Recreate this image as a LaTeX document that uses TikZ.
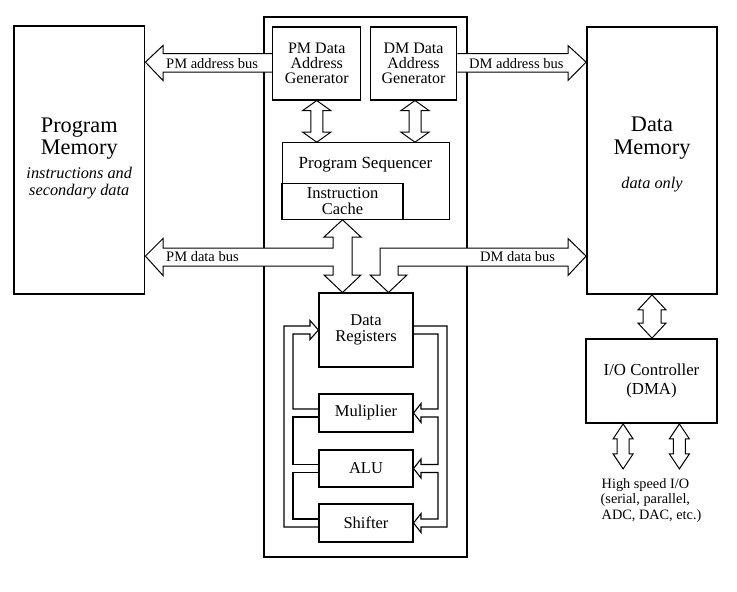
\documentclass[tikz,border=0pt]{standalone}
\usepackage{fontspec}
\setmainfont{Liberation Serif}
\usetikzlibrary{calc}
\pgfdeclarelayer{bg}
\pgfdeclarelayer{buslayer}
\pgfsetlayers{bg,buslayer,main}
% vertical double arrow: #1 top tip, #2 bottom tip, #3 shaft half width, #4 head half width, #5 head length
\newcommand\vdarr[5]{%
  \draw[bus] #1 -- ++(#4,#5) -- ++(-#4+#3,0) -- ($#2+(#3,-#5)$) -- ++(#4-#3,0) -- #2
    -- ++(-#4,-#5) -- ++(#4-#3,0) -- ($#1+(-#3,#5)$) -- ++(-#4+#3,0) -- cycle;}
\begin{document}
\begin{tikzpicture}[x=1pt,y=-1pt,
  outer/.style={draw, line width=1.8pt, inner sep=0pt, fill=white},
  box/.style={draw, line width=1.1pt, fill=white, inner sep=0pt, align=center,
              font=\fontsize{16.5}{16.5}\selectfont},
  bus/.style={draw, line width=1pt, fill=white, line join=miter, miter limit=10},
  fb/.style={draw, line width=1.1pt, line join=miter, miter limit=10},
  txt/.style={inner sep=0pt, anchor=base},
  buslbl/.style={inner sep=0pt, anchor=base west, font=\fontsize{14.5}{15}\selectfont},
  small/.style={inner sep=0pt, anchor=base west, font=\fontsize{14.3}{15}\selectfont},
]
\useasboundingbox (0,0) rectangle (737,592);

% ---------- background and processor box ----------
\begin{pgfonlayer}{bg}
\fill[white] (0,0) rectangle (737,592);
\node[draw, line width=1.8pt, minimum width=203pt, minimum height=539.5pt, inner sep=0pt] (cpu) at (365.5,287) {};
\end{pgfonlayer}

% ---------- outer boxes ----------
\node[outer, minimum width=130.5pt, minimum height=268pt] (pm) at (79.25,160) {};
\node[outer, minimum width=130pt, minimum height=267pt] (dm) at (652,160.5) {};
\node[outer, minimum width=131pt, minimum height=84pt, align=center,
      font=\fontsize{16.8}{19}\selectfont] (io) at (651.5,381) {I/O Controller\\(DMA)};

% memory texts
\node[txt, font=\fontsize{22.3}{22}\selectfont] (pmt1) at (79.25,132) {Program};
\node[txt, font=\fontsize{22.3}{22}\selectfont] (pmt2) at (79.25,154.5) {Memory};
\node[txt, font=\fontsize{16.3}{16}\selectfont\itshape] (pmt3) at (79.25,178) {instructions and};
\node[txt, font=\fontsize{16.3}{16}\selectfont\itshape] (pmt4) at (79.25,195) {secondary data};
\node[txt, font=\fontsize{22.3}{22}\selectfont] (dmt1) at (652,131.7) {Data};
\node[txt, font=\fontsize{22.3}{22}\selectfont] (dmt2) at (652,154) {Memory};
\node[txt, font=\fontsize{16.3}{16}\selectfont\itshape] (dmt3) at (652,188) {data only};

% ---------- inner boxes ----------
\node[box, minimum width=88pt, minimum height=73pt, font=\fontsize{16}{15}\selectfont]
  (pmdag) at (316.75,63.5) {PM Data\\Address\\Generator};
\node[box, minimum width=86.5pt, minimum height=73pt, font=\fontsize{16}{15}\selectfont]
  (dmdag) at (413.5,63.5) {DM Data\\Address\\Generator};
\node[box, minimum width=167pt, minimum height=76.5pt] (seq) at (365.75,181) {};
\node[txt, font=\fontsize{17}{17}\selectfont] (seqt) at (365.5,168) {Program Sequencer};
\node[box, minimum width=121pt, minimum height=36pt, font=\fontsize{16.5}{15.5}\selectfont]
  (cache) at (342.5,201.25) {Instruction\\Cache};
\node[box, minimum width=94pt, minimum height=74pt] (dr) at (366,330) {Data\\Registers};
\node[box, minimum width=94pt, minimum height=38pt] (mul) at (366,413) {Muliplier};
\node[box, minimum width=94pt, minimum height=37pt] (alu) at (366,468.5) {ALU};
\node[box, minimum width=94pt, minimum height=38pt] (shf) at (366,523) {Shifter};

% ---------- buses ----------
\begin{pgfonlayer}{buslayer}
% PM address bus
\draw[bus] (pmdag.west |- 0,53.5) -- (163,53.5) -- (163,45.5) -- ($(pm.north east)+(0,37)$)
  -- (163,80.5) -- (163,72) -- (pmdag.west |- 0,72);
% DM address bus
\draw[bus] (dmdag.east |- 0,53.5) -- (568,53.5) -- (568,45.5) -- ($(dm.north west)+(0,36)$)
  -- (568,80.5) -- (568,72) -- (dmdag.east |- 0,72);
% PM data bus joined with cache <-> data registers
\draw[bus] ($(pm.north east)+(0,231)$) -- (163,238.5) -- (163,248) -- (333,248) -- (333,237)
  -- (324,237) -- (cache.south) -- (361,237) -- (352,237) -- (352,275) -- (361,275)
  -- ($(dr.north)+(-23.5,0)$) -- (324,275) -- (333,275) -- (333,266) -- (163,266)
  -- (163,275.5) -- cycle;
% DM data bus into data registers
\draw[bus] ($(dm.north west)+(0,230)$) -- (568,238.5) -- (568,248) -- (380,248) -- (380,275)
  -- (370,275) -- ($(dr.north)+(22.5,0)$) -- (407,275) -- (398,275) -- (398,266)
  -- (568,266) -- (568,275.5) -- cycle;
\end{pgfonlayer}

% address generators <-> sequencer
\vdarr{(pmdag.south)}{(pmdag.south |- seq.north)}{6}{14}{10}
\coordinate (dmA) at ($(dmdag.south)+(1.5,0)$);
\coordinate (dmB) at (dmA |- seq.north);
\vdarr{(dmA)}{(dmB)}{6}{14}{10}
% data memory <-> I/O controller
\coordinate (ioT) at (dm.south);
\coordinate (ioB) at (dm.south |- io.north);
\vdarr{(ioT)}{(ioB)}{9}{14}{15}
% I/O lines
\coordinate (ioA) at ($(io.south west)+(38,0)$);
\coordinate (ioAe) at ($(ioA)+(0,45)$);
\coordinate (ioC) at ($(io.south east)+(-38.5,0)$);
\coordinate (ioCe) at ($(ioC)+(0,45)$);
\vdarr{(ioA)}{(ioAe)}{6}{10}{15}
\vdarr{(ioC)}{(ioCe)}{6}{10}{15}

% ---------- feedback loops ----------
% left side: results back to data registers
\draw[fb] (mul.west |- 0,409) -- (293,409) -- (293,334) -- (310,334) -- (310,339.5)
  -- (dr.west) -- (310,320.5) -- (310,326) -- (284,326) -- (284,527) -- (shf.west |- 0,527);
\draw[fb] (mul.west |- 0,417) -- (293,417) -- (293,464.5) -- (alu.west |- 0,464.5);
\draw[fb] (alu.west |- 0,472.5) -- (293,472.5) -- (293,519) -- (shf.west |- 0,519);
% right side: data registers to units
\draw[fb] (dr.east |- 0,334) -- (438,334) -- (438,409) -- (421,409) -- (421,403.5)
  -- (mul.east) -- (421,422.5) -- (421,417) -- (438,417) -- (438,464.5) -- (421,464.5)
  -- (421,459) -- (alu.east) -- (421,478) -- (421,472.5) -- (438,472.5) -- (438,519)
  -- (421,519) -- (421,513.5) -- (shf.east) -- (421,532.5) -- (421,527) -- (447,527)
  -- (447,326) -- (dr.east |- 0,326);

% ---------- bus labels ----------
\node[buslbl] (l1) at (166,68) {PM address bus};
\node[buslbl] (l2) at (469,68) {DM address bus};
\node[buslbl] (l3) at (166,261.5) {PM data bus};
\node[buslbl] (l4) at (480,261.5) {DM data bus};

% ---------- high speed I/O text ----------
\node[small] (hs1) at (601.5,488) {High speed I/O};
\node[small] (hs2) at (600.5,503.5) {(serial, parallel,};
\node[small] (hs3) at (601.5,519) {ADC, DAC, etc.)};
\end{tikzpicture}
\end{document}
